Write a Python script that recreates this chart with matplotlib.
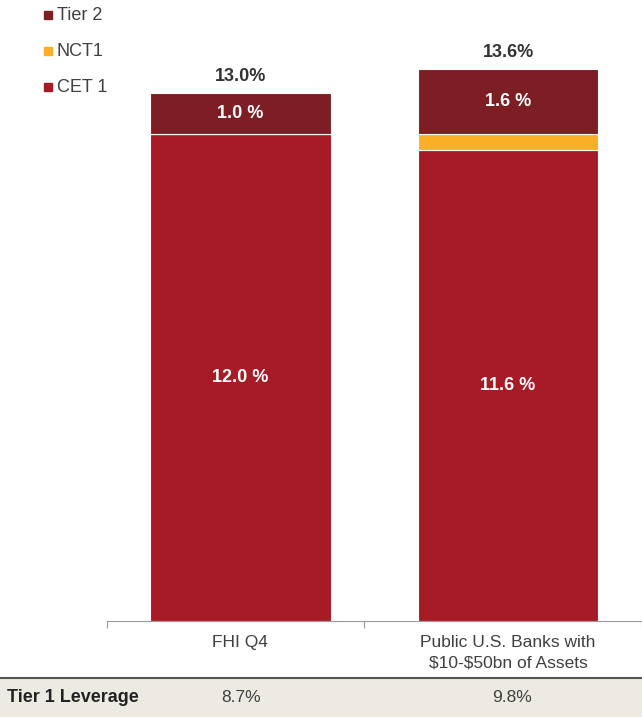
import matplotlib.pyplot as plt
from matplotlib.patches import Rectangle

plt.rcParams['font.family'] = ['Liberation Sans', 'DejaVu Sans']

categories = ['FHI Q4', 'Public U.S. Banks with\n\\$10-\\$50bn of Assets']
cet1 = [12.0, 11.6]
nct1 = [0.0, 0.4]
tier2 = [1.0, 1.6]
totals = ['13.0%', '13.6%']
cet1_labels = ['12.0 %', '11.6 %']
tier2_labels = ['1.0 %', '1.6 %']
leverage = ['8.7%', '9.8%']

c_cet1 = '#A61B25'
c_nct1 = '#FBAF26'
c_tier2 = '#7C1E23'

fig = plt.figure(figsize=(6.42, 7.17), dpi=100)
ax = fig.add_axes([107/642, 96/717, 535/642, 621/717])

x = [0, 1]
w = 0.675
bot2 = [a + b for a, b in zip(cet1, nct1)]
ax.bar(x, cet1, w, color=c_cet1, edgecolor='white', linewidth=0.8)
ax.bar(x, nct1, w, bottom=cet1, color=c_nct1, edgecolor='white', linewidth=0.8)
ax.bar(x, tier2, w, bottom=bot2, color=c_tier2, edgecolor='white', linewidth=0.8)

for i in x:
    ax.text(i, cet1[i] / 2, cet1_labels[i], ha='center', va='center',
            color='white', fontsize=13, fontweight='bold')
    ax.text(i, bot2[i] + tier2[i] / 2, tier2_labels[i], ha='center', va='center',
            color='white', fontsize=13, fontweight='bold')
    top = bot2[i] + tier2[i]
    ax.text(i, top + 0.2, totals[i], ha='center', va='bottom',
            color='#333333', fontsize=13, fontweight='bold')

ax.set_xlim(-0.497, 1.48)
ax.set_ylim(0, 621 / 40.6)
for s in ['top', 'right', 'left']:
    ax.spines[s].set_visible(False)
ax.spines['bottom'].set_color('#999999')
ax.set_yticks([])
ax.set_xticks([-0.497, 0.464, 1.5])
ax.set_xticklabels([])
ax.tick_params(axis='x', length=5, color='#999999')
for i in x:
    ax.text(i, -0.35, categories[i], ha='center', va='top', color='#404040',
            fontsize=12.5, linespacing=1.45)

# legend
leg = [('Tier 2', c_tier2), ('NCT1', c_nct1), ('CET 1', c_cet1)]
for k, (name, col) in enumerate(leg):
    yy = 1 - (15 + 36 * k) / 717
    fig.patches.append(Rectangle((44/642, yy - 4/717), 8/642, 8/717,
                                 transform=fig.transFigure, color=col))
    fig.text(57/642, yy, name, va='center', ha='left', color='#404040', fontsize=13)

# table row
fig.patches.append(Rectangle((0, 0), 1, 39/717, transform=fig.transFigure,
                             color='#EDEAE2', zorder=0))
fig.add_artist(plt.Line2D([0, 1], [39/717, 39/717], transform=fig.transFigure,
                          color='#555555', linewidth=1.5))
fig.text(7/642, 19/717, 'Tier 1 Leverage', va='center', ha='left',
         fontsize=13, fontweight='bold', color='#222222')
for xf, val in zip([241, 512], leverage):
    fig.text(xf / 642, 19/717, val, va='center', ha='center',
             fontsize=12.5, color='#404040')

fig.savefig('out.png', dpi=100)
